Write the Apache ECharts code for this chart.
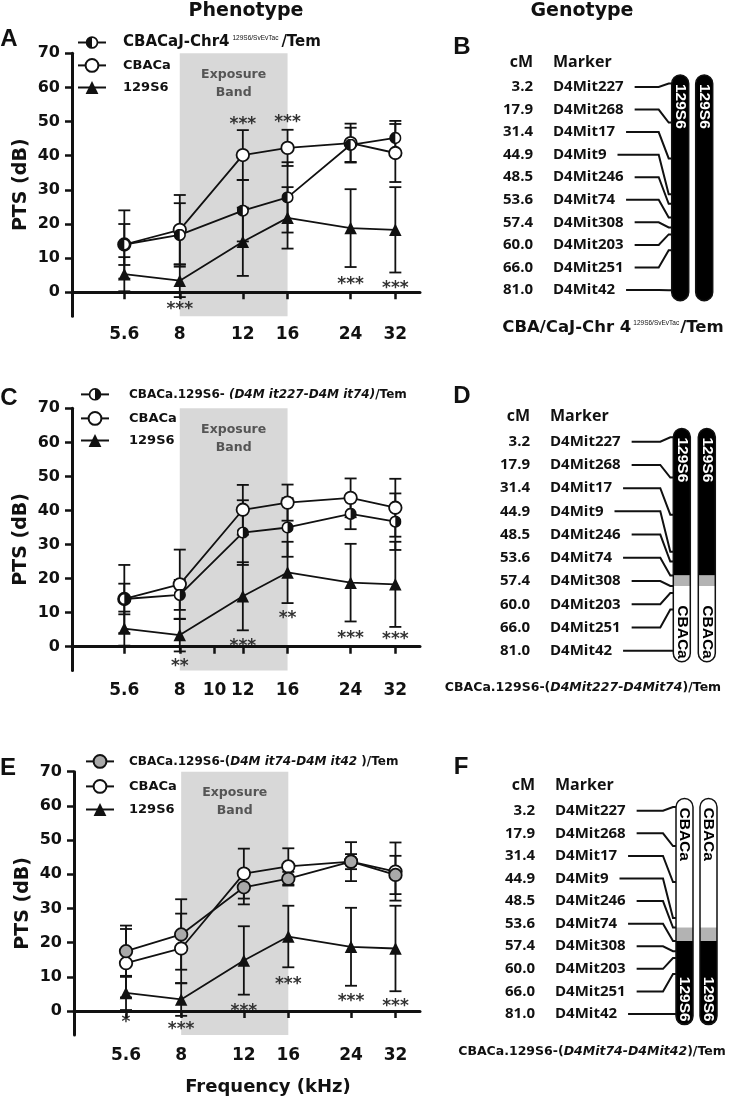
<!DOCTYPE html>
<html><head><meta charset="utf-8"><title>PTS phenotype / genotype</title>
<script src="https://cdn.jsdelivr.net/npm/echarts@6/dist/echarts.min.js"></script>
<style>html,body{margin:0;padding:0;background:#fff;}#chart{width:729px;height:1099px;}</style>
</head><body><div id="chart"></div>
<script>
// ---------------- data ----------------
const frequencies = [5.6, 8, 12, 16, 24, 32];
const xTicksAE = [5.6, 8, 12, 16, 24, 32];
const xTicksC = [5.6, 8, 10, 12, 16, 24, 32];
const yTicks = [0, 10, 20, 30, 40, 50, 60, 70];
const exposureBand = [8, 16];

const cbacaMean = [14.0, 18.3, 40.2, 42.3, 43.7, 40.8];
const cbacaErr  = [10.0, 10.2, 7.3, 5.3, 5.7, 8.5];
const s129Mean  = [5.3, 3.4, 14.8, 21.8, 18.8, 18.3];
const s129Err   = [5.0, 4.8, 10.0, 9.0, 11.4, 12.5];
const chr4Mean  = [14.0, 16.8, 23.9, 27.8, 43.2, 45.2];
const chr4Err   = [6.0, 9.3, 9.0, 10.3, 5.0, 5.0];
const cong227Mean = [14.0, 15.2, 33.5, 35.0, 39.0, 36.7];
const cong227Err  = [4.5, 4.4, 9.5, 8.6, 4.5, 8.3];
const cong74Mean  = [17.5, 22.4, 36.2, 38.7, 43.7, 39.8];
const cong74Err   = [7.5, 10.3, 5.0, 2.0, 2.2, 5.6];

const starsA = [[8, -4.2, '***'], [12, 50.0, '***'], [16, 50.7, '***'], [24, 3.1, '***'], [32, 2.1, '***']];
const starsC = [[8, -4.9, '**'], [12, 1.0, '***'], [16, 9.0, '**'], [24, 3.4, '***'], [32, 2.9, '***']];
const starsE = [[5.6, -2.6, '*'], [8, -4.6, '***'], [12, 0.8, '***'], [16, 8.6, '***'], [24, 3.7, '***'], [32, 2.3, '***']];

const markers  = ['D4Mit227', 'D4Mit268', 'D4Mit17', 'D4Mit9', 'D4Mit246', 'D4Mit74', 'D4Mit308', 'D4Mit203', 'D4Mit251', 'D4Mit42'];
const markerCM = [3.2, 17.9, 31.4, 44.9, 48.5, 53.6, 57.4, 60.0, 66.0, 81.0];
const chromLengthCM = 85;
const genotypeB = [[0, 85, '129S6']];
const genotypeD = [[0, 53.6, '129S6'], [53.6, 57.4, 'undetermined'], [57.4, 85, 'CBACa']];
const genotypeF = [[0, 48.5, 'CBACa'], [48.5, 53.6, 'undetermined'], [53.6, 85, '129S6']];

// ---------------- styles ----------------
const INK = '#111';
const FONT = '"DejaVu Sans", sans-serif';
const ARIAL = '"Liberation Sans", Arial, sans-serif';
const GFONT = '"Open Sans", sans-serif';

function svgSym(inner) {
  const svg = '<svg xmlns="http://www.w3.org/2000/svg" width="24" height="24" viewBox="0 0 24 24">' + inner + '</svg>';
  return 'image://data:image/svg+xml;charset=utf-8,' + encodeURIComponent(svg);
}
const ring = '<circle cx="12" cy="12" r="10.2" fill="none" stroke="#111" stroke-width="3.2"/>';
const symHalfLeft = svgSym('<circle cx="12" cy="12" r="10.2" fill="#fff"/><path d="M12 1.8 A10.2 10.2 0 0 0 12 22.2 Z" fill="#111"/>' + ring);
const symHalfRight = svgSym('<circle cx="12" cy="12" r="10.2" fill="#fff"/><path d="M12 1.8 A10.2 10.2 0 0 1 12 22.2 Z" fill="#111"/>' + ring);

const chart = echarts.init(document.getElementById('chart'), null, {renderer: 'canvas', width: 729, height: 1099});

const mctx = document.createElement('canvas').getContext('2d');
function textWidth(s, font) { mctx.font = font; return mctx.measureText(s).width; }

const legendRich = {
  b:   {fontFamily: FONT, fontWeight: 'bold', fontSize: 13, color: INK},
  bl:  {fontFamily: FONT, fontWeight: 'bold', fontSize: 15, color: INK},
  bs:  {fontFamily: FONT, fontWeight: 'bold', fontSize: 12, color: INK},
  bi:  {fontFamily: FONT, fontWeight: 'bold', fontStyle: 'italic', fontSize: 12, color: INK},
  sup: {fontFamily: ARIAL, fontWeight: 'normal', fontSize: 6.5, color: INK, verticalAlign: 'top', padding: [0, 3, 0, 3]}
};
const legendDisplay = {
  'A|strain': '{bl|CBACaJ-Chr4}{sup|129S6/SvEvTac}{bl|/Tem}',
  'C|strain': '{bs|CBACa.129S6- }{bi|(D4M it227-D4M it74)}{bs|/Tem}',
  'E|strain': '{bs|CBACa.129S6-(}{bi|D4M it74-D4M it42 }{bs|)/Tem}',
  'A|CBACa': '{b|CBACa}', 'C|CBACa': '{b|CBACa}', 'E|CBACa': '{b|CBACa}',
  'A|129S6': '{b|129S6}', 'C|129S6': '{b|129S6}', 'E|129S6': '{b|129S6}'
};

const option = {animation: false, grid: [], xAxis: [], yAxis: [], series: [], legend: [], graphic: {elements: []}};

// ---------------- phenotype panels ----------------
const phenoPanels = [
  {key: 'A', grid: {left: 72, top: 53.3, width: 348, height: 262.9}, xTicks: xTicksAE, margin: 10,
   mean: chr4Mean, err: chr4Err, symbol: symHalfLeft, itemStyle: {color: '#fff'}, stars: starsA,
   legendLeft: 77, legendRows: [44, 67, 90], legendPad: 12},
  {key: 'C', grid: {left: 72, top: 408.3, width: 348, height: 262.2}, xTicks: xTicksC, margin: 12,
   mean: cong227Mean, err: cong227Err, symbol: symHalfRight, itemStyle: {color: '#fff'}, stars: starsC,
   legendLeft: 80, legendRows: [397, 420, 443], legendPad: 15},
  {key: 'E', grid: {left: 74, top: 771.7, width: 346, height: 263.3}, xTicks: xTicksAE, margin: 12,
   mean: cong74Mean, err: cong74Err, symbol: 'circle', itemStyle: {color: '#a9a9a9', borderColor: INK, borderWidth: 1.8}, stars: starsE,
   legendLeft: 85, legendRows: [763, 788, 812], legendPad: 10}
];

function errSeries(gi, mean, err) {
  return {type: 'custom', xAxisIndex: gi, yAxisIndex: gi, z: 2, silent: true,
    data: frequencies.map((f, i) => [f, mean[i], err[i]]),
    renderItem(params, api) {
      const x = api.value(0), m = api.value(1), e = api.value(2);
      const t = api.coord([x, m + e]), b = api.coord([x, m - e]);
      const st = {stroke: INK, lineWidth: 1.8};
      return {type: 'group', children: [
        {type: 'line', shape: {x1: t[0], y1: t[1], x2: b[0], y2: b[1]}, style: st},
        {type: 'line', shape: {x1: t[0] - 6, y1: t[1], x2: t[0] + 6, y2: t[1]}, style: st},
        {type: 'line', shape: {x1: b[0] - 6, y1: b[1], x2: b[0] + 6, y2: b[1]}, style: st}
      ]};
    }};
}
function lineSeries(gi, name, mean, symbol, itemStyle, extra) {
  return Object.assign({type: 'line', name, xAxisIndex: gi, yAxisIndex: gi, z: 3, silent: true,
    data: frequencies.map((f, i) => [f, mean[i]]),
    symbol, symbolSize: 12.5, showAllSymbol: true, itemStyle: Object.assign({borderColor: INK, borderWidth: 1.8}, itemStyle),
    lineStyle: {color: INK, width: 1.8}, emphasis: {disabled: true}}, extra || {});
}
function starSeries(gi, stars) {
  return {type: 'custom', xAxisIndex: gi, yAxisIndex: gi, z: 4, silent: true,
    data: stars.map(s => [s[0], s[1]]),
    renderItem(params, api) {
      const p = api.coord([api.value(0), api.value(1)]);
      return {type: 'text', x: p[0], y: p[1] + 3, style: {text: stars[params.dataIndex][2], align: 'center', verticalAlign: 'middle',
        fontFamily: FONT, fontWeight: 'bold', fontSize: 17, fill: '#333'}};
    }};
}

phenoPanels.forEach((P, gi) => {
  option.grid.push(P.grid);
  option.xAxis.push({gridIndex: gi, type: 'log', logBase: 2, min: 4, max: 37.5, z: 5,
    axisLine: {show: true, lineStyle: {color: INK, width: 3}},
    axisTick: {show: true, customValues: P.xTicks, length: 7, lineStyle: {color: INK, width: 2.5}},
    axisLabel: {show: true, customValues: P.xTicks, margin: P.margin, fontFamily: FONT, fontWeight: 'bold', fontSize: 17, color: INK,
      formatter: v => String(Math.round(v * 10) / 10)},
    splitLine: {show: false}, minorTick: {show: false}});
  option.yAxis.push({gridIndex: gi, type: 'value', min: -7, max: 70, z: 5,
    axisLine: {show: true, lineStyle: {color: INK, width: 3}},
    axisTick: {show: true, customValues: yTicks, length: 7, lineStyle: {color: INK, width: 2.5}},
    axisLabel: {show: true, customValues: yTicks, margin: 12, fontFamily: FONT, fontWeight: 'bold', fontSize: 16, color: INK},
    splitLine: {show: false},
    name: 'PTS (dB)', nameLocation: 'middle', nameGap: 41,
    nameTextStyle: {fontFamily: FONT, fontWeight: 'bold', fontSize: 19, color: INK}});

  option.series.push(errSeries(gi, s129Mean, s129Err));
  option.series.push(errSeries(gi, cbacaMean, cbacaErr));
  option.series.push(errSeries(gi, P.mean, P.err));
  option.series.push(lineSeries(gi, P.key + '|129S6', s129Mean, 'triangle', {color: INK, borderWidth: 0}, {
    markArea: {silent: true, itemStyle: {color: '#d8d8d8'},
      label: {show: true, position: ['50%', 12], align: 'center', verticalAlign: 'top', formatter: 'Exposure\nBand',
        color: '#555', fontFamily: FONT, fontWeight: 'bold', fontSize: 12.5, lineHeight: 18},
      data: [[{xAxis: exposureBand[0], yAxis: 70}, {xAxis: exposureBand[1], yAxis: -7}]]}
  }));
  option.series.push(lineSeries(gi, P.key + '|CBACa', cbacaMean, 'circle', {color: '#fff'}));
  option.series.push(lineSeries(gi, P.key + '|strain', P.mean, P.symbol, P.itemStyle));
  option.series.push(starSeries(gi, P.stars));

  ['strain', 'CBACa', '129S6'].forEach((k, r) => {
    option.legend.push({show: true, orient: 'horizontal', left: P.legendLeft, top: P.legendRows[r] - 9, padding: 0,
      itemWidth: 28, itemHeight: 16, itemGap: 0, selectedMode: false, data: [P.key + '|' + k],
      formatter: n => legendDisplay[n],
      textStyle: {fontFamily: FONT, fontWeight: 'bold', fontSize: 13, color: INK, padding: [0, 0, 0, P.legendPad], rich: legendRich}});
  });
});

// ---------------- genotype panels ----------------
const genoPanels = [
  {segs: genotypeB, rowsTop: 87, rowsBottom: 290, cmTop: 75, cmBottom: 300.8, cmRight: 533, markerLeft: 553, barLeft: 671.7, barSpan: 41},
  {segs: genotypeD, rowsTop: 441.7, rowsBottom: 650.7, cmTop: 428.5, cmBottom: 661.7, cmRight: 530, markerLeft: 550, barLeft: 673.3, barSpan: 42},
  {segs: genotypeF, rowsTop: 810.7, rowsBottom: 1014, cmTop: 798.5, cmBottom: 1024.6, cmRight: 535, markerLeft: 555, barLeft: 676, barSpan: 41}
];
const strainFill = {'129S6': '#000', 'CBACa': '#fff', 'undetermined': '#b3b3b3'};
const strainText = {'129S6': '#fff', 'CBACa': '#000'};
const GENO_FONT = 'bold 15px "Open Sans", sans-serif';

genoPanels.forEach((G, g) => {
  const rowsIdx = 3 + 2 * g, cmIdx = 4 + 2 * g;
  option.grid.push({left: G.cmRight, top: G.rowsTop, width: 100, height: G.rowsBottom - G.rowsTop});
  option.xAxis.push({gridIndex: rowsIdx, type: 'value', min: 0, max: 1, show: false});
  option.yAxis.push({gridIndex: rowsIdx, type: 'value', min: 0, max: markers.length - 1, inverse: true, show: false});
  option.grid.push({left: G.barLeft, top: G.cmTop, width: G.barSpan, height: G.cmBottom - G.cmTop});
  option.xAxis.push({gridIndex: cmIdx, type: 'value', min: 0, max: 1, show: false});
  option.yAxis.push({gridIndex: cmIdx, type: 'value', min: 0, max: chromLengthCM, inverse: true, show: false});

  // chromosome bars
  option.series.push({type: 'custom', xAxisIndex: cmIdx, yAxisIndex: cmIdx, z: 2, silent: true,
    data: [[0, 0], [1, 0]],
    renderItem(params, api) {
      const c = api.value(0);
      const W = 17, R = 8.5;
      const edge = api.coord([c, 0]);
      const x = c === 0 ? edge[0] : edge[0] - W;
      const topY = edge[1], botY = api.coord([c, chromLengthCM])[1];
      const kids = [];
      const segs = G.segs;
      segs.forEach((s, k) => {
        const y1 = api.coord([c, s[0]])[1], y2 = api.coord([c, s[1]])[1];
        const r = segs.length === 1 ? R : (k === 0 ? [R, R, 0, 0] : (k === segs.length - 1 ? [0, 0, R, R] : 0));
        kids.push({type: 'rect', shape: {x, y: y1, width: W, height: y2 - y1, r}, style: {fill: strainFill[s[2]]}});
      });
      kids.push({type: 'rect', shape: {x, y: topY, width: W, height: botY - topY, r: R}, style: {fill: null, stroke: INK, lineWidth: 1.5}});
      const first = segs[0];
      kids.push({type: 'text', x: x + W / 2, y: api.coord([c, first[0]])[1] + 9, rotation: -Math.PI / 2,
        style: {text: first[2], align: 'left', verticalAlign: 'middle', fill: strainText[first[2]], fontFamily: ARIAL, fontWeight: 'bold', fontSize: 15.5}});
      if (segs.length > 1) {
        const last = segs[segs.length - 1];
        kids.push({type: 'text', x: x + W / 2, y: api.coord([c, last[1]])[1] - 3, rotation: -Math.PI / 2,
          style: {text: last[2], align: 'right', verticalAlign: 'middle', fill: strainText[last[2]], fontFamily: ARIAL, fontWeight: 'bold', fontSize: 15.5}});
      }
      return {type: 'group', children: kids};
    }});

  // marker labels + connectors
  option.series.push({type: 'custom', xAxisIndex: rowsIdx, yAxisIndex: rowsIdx, z: 3, silent: true,
    data: markers.map((m, i) => [0, i]),
    renderItem(params, api) {
      const i = params.dataIndex;
      const p = api.coord([0, api.value(1)]);
      const x0 = p[0], y = p[1];
      const mx = x0 + 20;
      const w = textWidth(markers[i], GENO_FONT);
      const cy = chart.convertToPixel({yAxisIndex: cmIdx}, markerCM[i]);
      const bx = chart.convertToPixel({xAxisIndex: cmIdx}, 0);
      const tstyle = {fontFamily: GFONT, fontWeight: 'bold', fontSize: 15, fill: INK, verticalAlign: 'middle'};
      return {type: 'group', children: [
        {type: 'text', style: Object.assign({text: markerCM[i].toFixed(1), x: x0, y, align: 'right'}, tstyle)},
        {type: 'text', style: Object.assign({text: markers[i], x: mx, y, align: 'left'}, tstyle)},
        {type: 'polyline', shape: {points: [[mx + w + 11, y], [bx - 13, y], [bx - 3, cy], [bx, cy]]},
          style: {fill: null, stroke: INK, lineWidth: 2}}
      ]};
    }});

  option.graphic.elements.push(
    {type: 'text', x: G.cmRight, y: G.rowsTop - 25, style: {text: 'cM', align: 'right', verticalAlign: 'middle', fontFamily: GFONT, fontWeight: 'bold', fontSize: 16, fill: INK}},
    {type: 'text', x: G.markerLeft, y: G.rowsTop - 25, style: {text: 'Marker', align: 'left', verticalAlign: 'middle', fontFamily: GFONT, fontWeight: 'bold', fontSize: 16, fill: INK}}
  );
});

// ---------------- static texts ----------------
const capRich = {
  b:   {fontFamily: FONT, fontWeight: 'bold', fontSize: 12.5, fill: INK},
  bb:  {fontFamily: FONT, fontWeight: 'bold', fontSize: 16.5, fill: INK},
  bi:  {fontFamily: FONT, fontWeight: 'bold', fontStyle: 'italic', fontSize: 12.5, fill: INK},
  sup: {fontFamily: ARIAL, fontWeight: 'normal', fontSize: 6.5, fill: INK, verticalAlign: 'top', padding: [0, 1, 0, 2]}
};
function T(text, x, y, font, size, extra) {
  return {type: 'text', x, y, style: Object.assign({text, align: 'center', verticalAlign: 'middle', fontFamily: font, fontWeight: 'bold', fontSize: size, fill: INK}, extra || {})};
}
option.graphic.elements.push(
  T('Phenotype', 246, 11, FONT, 19),
  T('Genotype', 582, 11, FONT, 19),
  T('A', 9, 39, ARIAL, 24), T('B', 462, 47, ARIAL, 24),
  T('C', 9, 398, ARIAL, 24), T('D', 462, 396, ARIAL, 24),
  T('E', 8, 768, ARIAL, 24), T('F', 461, 767, ARIAL, 24),
  T('Frequency (kHz)', 268, 1087, FONT, 18),
  T('{bb|CBA/CaJ-Chr 4}{sup|129S6/SvEvTac}{bb|/Tem}', 613, 328, FONT, 16.5, {rich: capRich}),
  T('{b|CBACa.129S6-(}{bi|D4Mit227-D4Mit74}{b|)/Tem}', 583, 688, FONT, 12.5, {rich: capRich}),
  T('{b|CBACa.129S6-(}{bi|D4Mit74-D4Mit42}{b|)/Tem}', 592, 1052, FONT, 12.5, {rich: capRich})
);

chart.setOption(option);
</script></body></html>
